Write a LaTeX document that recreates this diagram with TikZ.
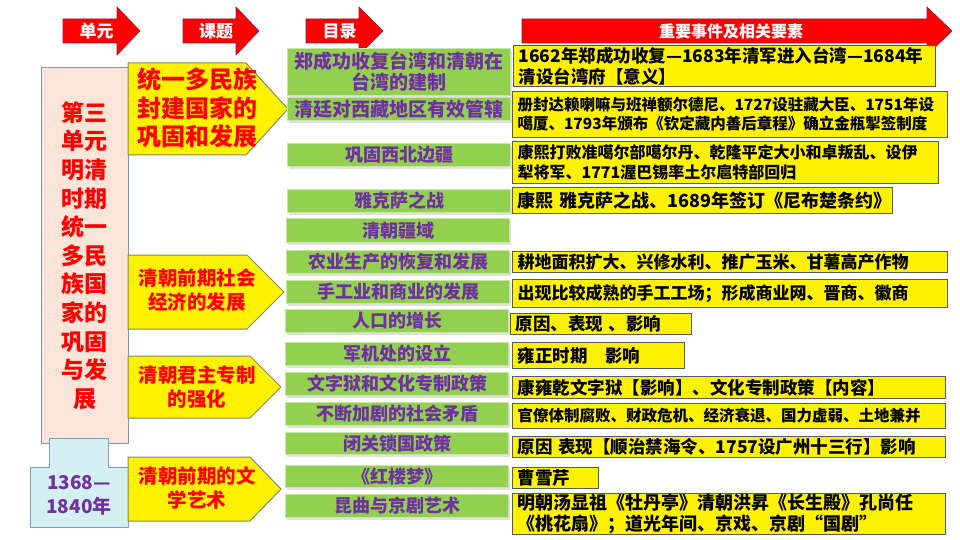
\documentclass[tikz,border=0pt]{standalone}
\usepackage{fontspec}
\setmainfont{Noto Sans CJK SC}
\usepackage{tikz}
\usetikzlibrary{shadows}
\definecolor{ArrowRed}{HTML}{FF0000}
\definecolor{ArrowEdge}{HTML}{8B1A3A}
\definecolor{UnitPink}{HTML}{FBE4D8}
\definecolor{UnitEdge}{HTML}{7F93B8}
\definecolor{DateCyan}{HTML}{D5F0F2}
\definecolor{DateEdge}{HTML}{7F9BBF}
\definecolor{CourseEdge}{HTML}{7D8A6E}
\definecolor{LessonGreen}{HTML}{92D050}
\definecolor{LessonEdge}{HTML}{C9E6A8}
\definecolor{LessonPurple}{HTML}{7030A0}
\definecolor{EventEdge}{HTML}{4F5B73}

\begin{document}
\begin{tikzpicture}[x=1pt,y=-1pt,
  hdr/.style={fill=ArrowRed,draw=ArrowEdge,line width=0.6pt},
  hdrtext/.style={text=white,inner sep=0pt,font=\bfseries\fontsize{17}{17}\selectfont},
  unitbox/.style={fill=UnitPink,draw=UnitEdge,line width=1pt,minimum width=87pt,minimum height=375pt,inner sep=0pt,align=center,text=ArrowRed,font=\bfseries\fontsize{23}{28.6}\selectfont},
  datebox/.style={fill=DateCyan,draw=DateEdge,line width=1pt},
  datetext/.style={text=LessonPurple,inner sep=0pt,align=center,font=\bfseries\fontsize{19}{24}\selectfont},
  course/.style={fill=yellow,draw=CourseEdge,line width=1pt},
  coursetext/.style={text=ArrowRed,inner sep=0pt,align=center,font=\bfseries\fontsize{19.5}{23.5}\selectfont},
  lesson/.style={anchor=north west,fill=LessonGreen,draw=LessonEdge,line width=1pt,minimum width=223pt,inner sep=0pt,align=center,text=LessonPurple,font=\bfseries\fontsize{18}{21}\selectfont,drop shadow={shadow xshift=1.5pt,shadow yshift=-2.5pt,fill=black!30,opacity=0.4}},
  event/.style={anchor=north west,fill=yellow,draw=EventEdge,line width=1pt,inner xsep=5pt,inner ysep=0pt,align=left,font=\bfseries\fontsize{17.5}{20.5}\selectfont}]
\useasboundingbox (0,0) rectangle (960,540);
% header arrows
\foreach \n/\xa/\xb/\xc/\t in {unit/63/117/140/单元,topic/183/236/259/课题,list/306/359/383/目录} {
  \filldraw[hdr] (\xa,19) -- (\xb,19) -- (\xb,7) -- (\xc,31) -- (\xb,55) -- (\xb,43) -- (\xa,43) -- cycle;
  \node[hdrtext] (h\n) at ({(\xa+\xc)/2-5},31) {\t};
}
\filldraw[hdr] (522,19) -- (927,19) -- (927,7) -- (952,31) -- (927,55) -- (927,43) -- (522,43) -- cycle;
\node[hdrtext,font=\bfseries\fontsize{16}{16}\selectfont] (hevents) at (731,31) {重要事件及相关要素};

% unit column
\node[unitbox] (unit) at (84.5,255.5) {第三\\单元\\明清\\时期\\统一\\多民\\族国\\家的\\巩固\\与发\\展};
\filldraw[datebox] (49,438) -- (108,438) -- (108,467) -- (128,467) -- (128,527) -- (30,527) -- (30,467) -- (49,467) -- cycle;
\node[datetext] (period) at (79,495) {1368—\\1840年};

% topics
\filldraw[course] (128,63) -- (246,63) -- (288,109) -- (246,155) -- (128,155) -- cycle;
\node[coursetext,font=\bfseries\fontsize{24}{28.5}\selectfont] (c1) at (197,108) {统一多民族\\封建国家的\\巩固和发展};
\filldraw[course] (128,255) -- (247,255) -- (284,292) -- (247,329) -- (128,329) -- cycle;
\node[coursetext] (c2) at (197,290) {清朝前期社会\\经济的发展};
\filldraw[course] (128,356) -- (250,356) -- (281,387) -- (250,418) -- (128,418) -- cycle;
\node[coursetext] (c3) at (197,387) {清朝君主专制\\的强化};
\filldraw[course] (128,457) -- (250,457) -- (281,489) -- (250,521) -- (128,521) -- cycle;
\node[coursetext] (c4) at (197,488) {清朝前期的文\\学艺术};

% lessons
\node[lesson,minimum height=47pt,font=\bfseries\fontsize{19}{21}\selectfont] (l1) at (287,48) {郑成功收复台湾和清朝在\\台湾的建制};
\node[lesson,minimum height=23pt,font=\bfseries\fontsize{19}{21}\selectfont] (l2) at (287,97) {清廷对西藏地区有效管辖};
\node[lesson,minimum height=23pt] (l3) at (287,143) {巩固西北边疆};
\node[lesson,minimum height=23pt] (l4) at (287,189) {雅克萨之战};
\node[lesson,minimum height=24pt] (l5) at (286,218) {清朝疆域};
\node[lesson,minimum height=23pt] (l6) at (286,250) {农业生产的恢复和发展};
\node[lesson,minimum height=23pt] (l7) at (286,280) {手工业和商业的发展};
\node[lesson,minimum height=23pt] (l8) at (285,309) {人口的增长};
\node[lesson,minimum height=23pt] (l9) at (285,342) {军机处的设立};
\node[lesson,minimum height=23pt] (l10) at (285,372) {文字狱和文化专制政策};
\node[lesson,minimum height=23pt] (l11) at (285,402) {不断加剧的社会矛盾};
\node[lesson,minimum height=22pt] (l12) at (285,432) {闭关锁国政策};
\node[lesson,minimum height=22pt] (l13) at (285,465) {《红楼梦》};
\node[lesson,minimum height=23pt] (l14) at (285,494) {昆曲与京剧艺术};

% events
\node[event,text width=412pt,minimum height=41pt] (e1) at (513,45) {1662年郑成功收复—1683年清军进入台湾—1684年\\清设台湾府【意义】};
\node[event,text width=425pt,minimum height=46pt,font=\bfseries\fontsize{15.5}{19}\selectfont] (e2) at (512,91) {册封达赖喇嘛与班禅额尔德尼、1727设驻藏大臣、1751年设\\噶厦、1793年颁布《钦定藏内善后章程》确立金瓶掣签制度};
\node[event,text width=416pt,minimum height=42pt,font=\bfseries\fontsize{16}{20}\selectfont] (e3) at (512,141) {康熙打败准噶尔部噶尔丹、乾隆平定大小和卓叛乱、设伊\\犁将军、1771渥巴锡率土尔扈特部回归};
\node[event,text width=370pt,minimum height=26pt,font=\bfseries\fontsize{18}{20}\selectfont] (e4) at (512,187) {康熙 雅克萨之战、1689年签订《尼布楚条约》};
\node[event,text width=425pt,minimum height=21pt,font=\bfseries\fontsize{17}{20}\selectfont] (e5) at (512,251) {耕地面积扩大、兴修水利、推广玉米、甘薯高产作物};
\node[event,text width=425pt,minimum height=28pt,font=\bfseries\fontsize{17}{20}\selectfont] (e6) at (512,279) {出现比较成熟的手工工场；形成商业网、晋商、徽商};
\node[event,text width=171pt,minimum height=21pt] (e7) at (510,313) {原因、表现 、影响};
\node[event,text width=162pt,minimum height=26pt] (e8) at (512,342) {雍正时期\hspace{1em}影响};
\node[event,text width=423pt,minimum height=22pt] (e9) at (512,376) {康雍乾文字狱【影响】、文化专制政策【内容】};
\node[event,text width=423pt,minimum height=25pt,font=\bfseries\fontsize{15.5}{19}\selectfont] (e10) at (512,403) {官僚体制腐败、财政危机、经济衰退、国力虚弱、土地兼并};
\node[event,text width=423pt,minimum height=21pt] (e11) at (512,436) {原因 表现【顺治禁海令、1757设广州十三行】影响};
\node[event,text width=76pt,minimum height=21pt] (e12) at (512,467) {曹雪芹};
\node[event,text width=423pt,minimum height=41pt,font=\bfseries\fontsize{18}{20.5}\selectfont] (e13) at (512,493) {明朝汤显祖《牡丹亭》清朝洪昇《长生殿》孔尚任\\《桃花扇》；道光年间、京戏、京剧“国剧”};
\end{tikzpicture}
\end{document}
